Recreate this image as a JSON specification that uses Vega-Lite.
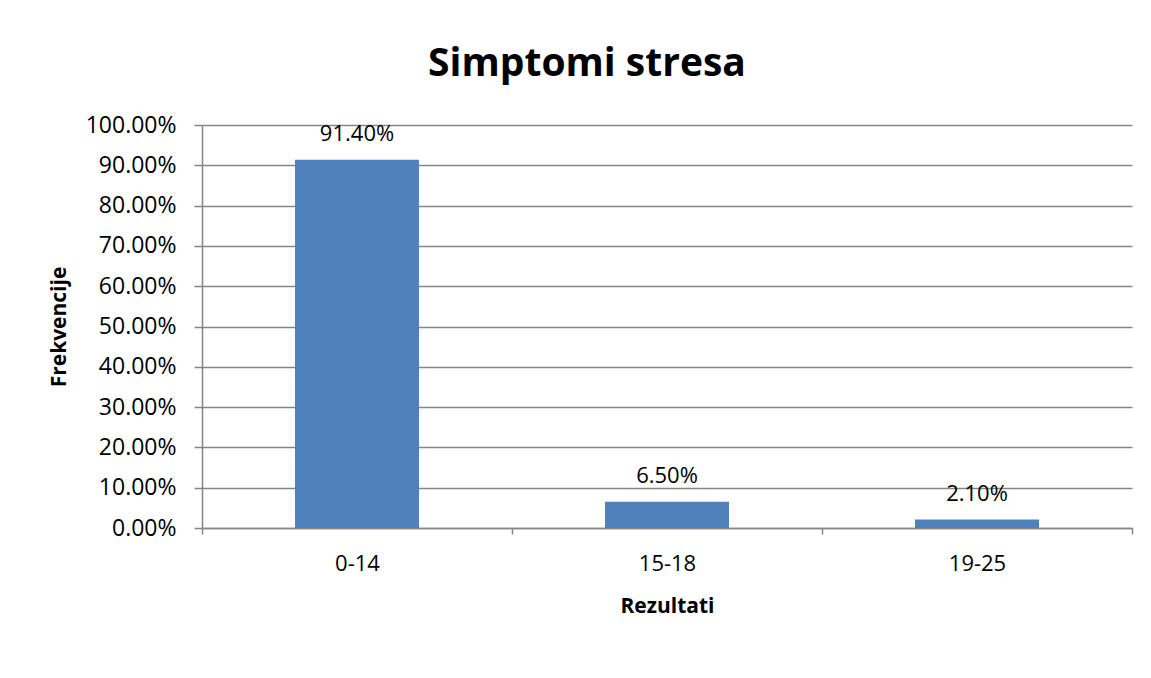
{
  "$schema": "https://vega.github.io/schema/vega-lite/v6.json",
  "autosize": "none",
  "width": 930,
  "height": 403,
  "padding": {"left": 202, "top": 125, "right": 19, "bottom": 150},
  "background": "white",
  "config": {
    "font": "Open Sans",
    "view": {"stroke": null}
  },
  "title": {
    "text": "Simptomi stresa",
    "font": "Open Sans",
    "fontSize": 39,
    "fontWeight": "bold",
    "color": "black",
    "anchor": "middle",
    "frame": "group",
    "baseline": "alphabetic",
    "offset": -1,
    "dx": -80
  },
  "data": {
    "values": [
      {"Rezultati": "0-14", "Frekvencije": 0.914},
      {"Rezultati": "15-18", "Frekvencije": 0.065},
      {"Rezultati": "19-25", "Frekvencije": 0.021}
    ]
  },
  "encoding": {
    "x": {
      "field": "Rezultati",
      "type": "nominal",
      "sort": null,
      "scale": {"paddingInner": 0, "paddingOuter": 0},
      "axis": {
        "title": "Rezultati",
        "titleFont": "Open Sans",
        "titleFontSize": 21,
        "titleFontWeight": "bold",
        "titleColor": "black",
        "titlePadding": 21,
        "labelAngle": 0,
        "labelFont": "Open Sans",
        "labelFontSize": 22,
        "labelColor": "black",
        "labelPadding": 19,
        "tickBand": "extent",
        "tickSize": 6,
        "tickColor": "#868686",
        "tickWidth": 1.5,
        "domainColor": "#868686",
        "domainWidth": 1.5,
        "grid": false
      }
    },
    "y": {
      "field": "Frekvencije",
      "type": "quantitative",
      "scale": {"domain": [0, 1], "nice": false},
      "axis": {
        "title": "Frekvencije",
        "titleFont": "Open Sans",
        "titleFontSize": 21,
        "titleFontWeight": "bold",
        "titleColor": "black",
        "titlePadding": 16,
        "values": [0, 0.1, 0.2, 0.3, 0.4, 0.5, 0.6, 0.7, 0.8, 0.9, 1],
        "format": ".2%",
        "labelFont": "Open Sans",
        "labelFontSize": 23,
        "labelColor": "black",
        "labelPadding": 18,
        "tickSize": 8,
        "tickColor": "#868686",
        "tickWidth": 1.5,
        "domainColor": "#868686",
        "domainWidth": 1.5,
        "grid": true,
        "gridColor": "#868686",
        "gridWidth": 1.5
      }
    }
  },
  "layer": [
    {"mark": {"type": "bar", "color": "#4F81BD", "width": {"band": 0.4}}},
    {
      "mark": {
        "type": "text",
        "baseline": "alphabetic",
        "dy": -19,
        "font": "Open Sans",
        "fontSize": 22,
        "color": "black"
      },
      "encoding": {
        "text": {"field": "Frekvencije", "type": "quantitative", "format": ".2%"}
      }
    }
  ]
}
